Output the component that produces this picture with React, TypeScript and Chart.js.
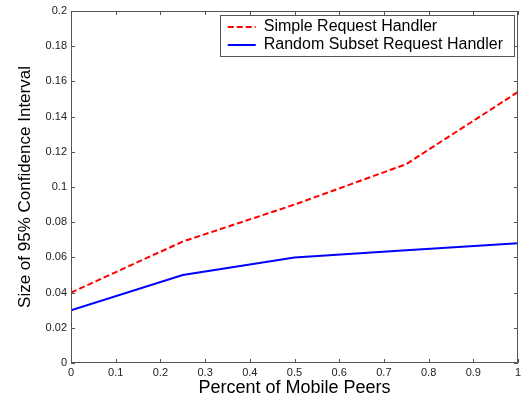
import React, { useEffect, useRef } from "react";
import { Chart, registerables } from "chart.js";

Chart.register(...registerables);

const xValues = [0, 0.25, 0.5, 0.75, 1];
const simpleHandler = [0.04, 0.069, 0.09, 0.113, 0.154];
const randomSubsetHandler = [0.03, 0.05, 0.06, 0.064, 0.068];
const seriesNames = ["Simple Request Handler", "Random Subset Request Handler"];
const xTitle = "Percent of Mobile Peers";
const yTitle = "Size of 95% Confidence Interval";

const FONT = "'Liberation Sans', Arial, Helvetica, sans-serif";

const fmt = (v: number | string) => String(+Number(v).toFixed(2));

const framePlugin = {
  id: "frame",
  afterDraw(chart: any) {
    const { ctx, chartArea: a, scales } = chart;
    ctx.save();
    ctx.strokeStyle = "#555";
    ctx.lineWidth = 1;
    ctx.beginPath();
    ctx.rect(a.left + 0.5, a.top + 0.5, a.right - a.left - 1, a.bottom - a.top - 1);
    ctx.stroke();
    const L = 4;
    ctx.beginPath();
    scales.x.ticks.forEach((t: any) => {
      const px = Math.round(scales.x.getPixelForValue(t.value)) + 0.5;
      ctx.moveTo(px, a.bottom);
      ctx.lineTo(px, a.bottom - L);
      ctx.moveTo(px, a.top);
      ctx.lineTo(px, a.top + L);
    });
    scales.y.ticks.forEach((t: any) => {
      const py = Math.round(scales.y.getPixelForValue(t.value)) + 0.5;
      ctx.moveTo(a.left, py);
      ctx.lineTo(a.left + L, py);
      ctx.moveTo(a.right, py);
      ctx.lineTo(a.right - L, py);
    });
    ctx.stroke();

    // legend
    ctx.font = `16px ${FONT}`;
    const ds = chart.data.datasets;
    const maxW = Math.max(...ds.map((d: any) => ctx.measureText(d.label).width));
    const w = 8 + 28 + 8 + maxW + 11;
    const right = a.right - 4;
    const left = right - w;
    const top = a.top + 4;
    const h = 41;
    ctx.fillStyle = "#fff";
    ctx.fillRect(left, top, w, h);
    ctx.strokeStyle = "#555";
    ctx.strokeRect(Math.round(left) + 0.5, top + 0.5, Math.round(w), h);
    ds.forEach((d: any, i: number) => {
      const cy = top + 12 + i * 18;
      ctx.strokeStyle = d.borderColor;
      ctx.lineWidth = d.borderWidth;
      ctx.setLineDash(d.borderDash || []);
      ctx.beginPath();
      ctx.moveTo(left + 8, cy);
      ctx.lineTo(left + 36, cy);
      ctx.stroke();
      ctx.setLineDash([]);
      ctx.fillStyle = "#000";
      ctx.textBaseline = "middle";
      ctx.textAlign = "left";
      ctx.fillText(d.label, left + 44, cy);
    });
    ctx.restore();
  },
};

export default function App() {
  const ref = useRef<HTMLCanvasElement>(null);
  useEffect(() => {
    document.body.style.margin = "0";
    const chart = new Chart(ref.current!, {
      type: "line",
      data: {
        datasets: [
          {
            label: seriesNames[0],
            data: xValues.map((x, i) => ({ x, y: simpleHandler[i] })),
            borderColor: "#ff0000",
            borderWidth: 2,
            borderDash: [6, 3],
            pointRadius: 0,
            fill: false,
          },
          {
            label: seriesNames[1],
            data: xValues.map((x, i) => ({ x, y: randomSubsetHandler[i] })),
            borderColor: "#0000ff",
            borderWidth: 2,
            pointRadius: 0,
            fill: false,
          },
        ],
      },
      options: {
        animation: false,
        responsive: false,
        layout: { padding: { top: 11, right: 13, left: 0, bottom: 0 } },
        plugins: { legend: { display: false }, tooltip: { enabled: false } },
        scales: {
          x: {
            type: "linear",
            min: 0,
            max: 1,
            grid: { display: false, drawTicks: false },
            border: { display: false },
            ticks: {
              stepSize: 0.1,
              padding: 3,
              color: "#222",
              font: { family: FONT, size: 11 },
              callback: (v: any) => fmt(v),
              maxRotation: 0,
            },
            title: {
              display: true,
              text: xTitle,
              color: "#000",
              font: { family: FONT, size: 18 },
              padding: { top: 0, bottom: 5 },
            },
            afterFit: (s: any) => {
              s.height = 41;
            },
          },
          y: {
            type: "linear",
            min: 0,
            max: 0.2,
            grid: { display: false, drawTicks: false },
            border: { display: false },
            ticks: {
              stepSize: 0.02,
              padding: 4,
              color: "#222",
              font: { family: FONT, size: 11 },
              callback: (v: any) => fmt(v),
            },
            title: {
              display: true,
              text: yTitle,
              color: "#000",
              font: { family: FONT, size: 17 },
              padding: { top: 15, bottom: 0 },
            },
            afterFit: (s: any) => {
              s.width = 71;
            },
          },
        },
      },
      plugins: [framePlugin],
    });
    return () => chart.destroy();
  }, []);
  return <canvas ref={ref} width={531} height={404} style={{ display: "block" }} />;
}
